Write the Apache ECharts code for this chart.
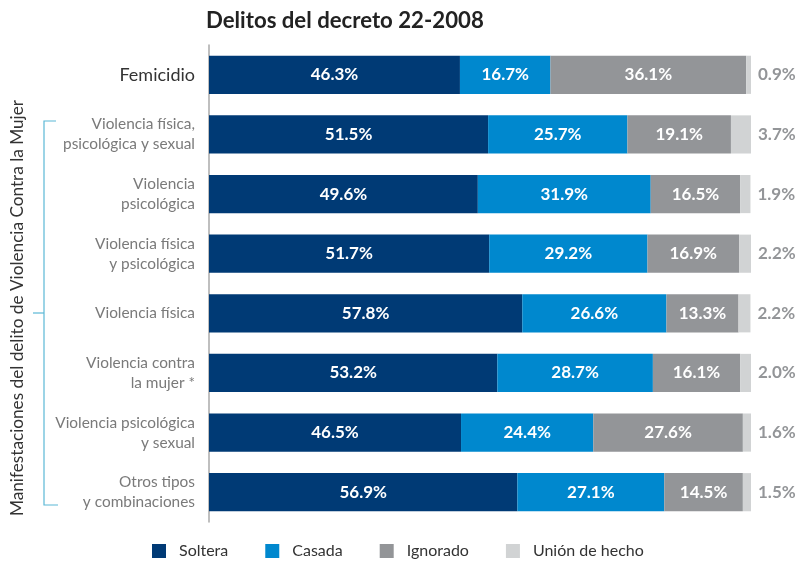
<!DOCTYPE html>
<html><head><meta charset="utf-8">
<script src="https://cdn.jsdelivr.net/npm/echarts@6/dist/echarts.min.js"></script>
<style>html,body{margin:0;padding:0;background:#fff}#c{width:799px;height:565px}</style>
</head><body><div id="c"></div>
<script>
const categories = ["Femicidio", "Violencia física,\npsicológica y sexual", "Violencia\npsicológica", "Violencia física\ny psicológica", "Violencia física", "Violencia contra\nla mujer *", "Violencia psicológica\ny sexual", "Otros tipos\ny combinaciones"];
const seriesNames = ["Soltera", "Casada", "Ignorado", "Unión de hecho"];
const soltera = [46.3, 51.5, 49.6, 51.7, 57.8, 53.2, 46.5, 56.9];
const casada = [16.7, 25.7, 31.9, 29.2, 26.6, 28.7, 24.4, 27.1];
const ignorado = [36.1, 19.1, 16.5, 16.9, 13.3, 16.1, 27.6, 14.5];
const union = [0.9, 3.7, 1.9, 2.2, 2.2, 2.0, 1.6, 1.5];
const titleText = "Delitos del decreto 22-2008";
const yName = "Manifestaciones del delito de Violencia Contra la Mujer";

const colors = ["#003a75", "#0088ce", "#939598", "#d1d3d4"];
const font = "Lato, 'Open Sans', sans-serif";
const chart = echarts.init(document.getElementById('c'));
const dataSets = [soltera, casada, ignorado, union];
const series = dataSets.map((d, i) => ({
  name: seriesNames[i],
  type: 'bar',
  stack: 'total',
  barWidth: '64%',
  data: d,
  itemStyle: { color: colors[i] },
  label: i < 3 ? {
    show: true, position: 'inside', color: '#fff', fontWeight: 'bold', fontSize: 17, fontFamily: font,
    formatter: p => p.value.toFixed(1) + '%'
  } : {
    show: true, position: 'right', distance: 7, color: '#939598', fontWeight: 'bold', fontSize: 17, fontFamily: font,
    formatter: p => p.value.toFixed(1) + '%'
  }
}));
chart.setOption({
  animation: false,
  textStyle: { fontFamily: font },
  title: { text: titleText, left: 201, top: 5, textStyle: { fontSize: 22.2, fontWeight: 'bold', color: '#222', fontFamily: font } },
  grid: { left: 209, right: 48, top: 45, bottom: 43 },
  legend: {
    left: 147, bottom: 1, itemWidth: 14, itemHeight: 14, itemGap: 37,
    icon: 'rect',
    textStyle: { fontSize: 16, color: '#333', fontFamily: font, padding: [0, 0, 0, 8] },
    data: seriesNames
  },
  xAxis: { type: 'value', min: 0, max: 100, show: false },
  yAxis: {
    type: 'category', data: categories, inverse: true,
    axisLine: { show: true, lineStyle: { color: '#aaa', width: 1.5 } },
    axisTick: { show: false },
    axisLabel: {
      margin: 14, align: 'right',
      formatter: (v, i) => i === 0 ? '{a|' + v + '}' : v.split('\n').map(s => '{b|' + s + '}').join('\n'),
      rich: {
        a: { fontSize: 18, color: '#333', fontFamily: font },
        b: { fontSize: 15.4, color: '#7a7a7a', fontFamily: font, lineHeight: 20 }
      }
    }
  },
  graphic: [
    { type: 'text', x: 17, y: 308, rotation: Math.PI / 2, style: { text: yName, fill: '#333', fontSize: 17.2, fontFamily: font, align: 'center', verticalAlign: 'middle' } },
    { type: 'polyline', shape: { points: [[56, 121], [44, 121], [44, 505], [58, 505]] }, style: { stroke: '#5bb8d6', lineWidth: 1.2, fill: null } },
    { type: 'line', shape: { x1: 33, y1: 313, x2: 44, y2: 313 }, style: { stroke: '#5bb8d6', lineWidth: 1.2 } }
  ],
  series
});
</script></body></html>
